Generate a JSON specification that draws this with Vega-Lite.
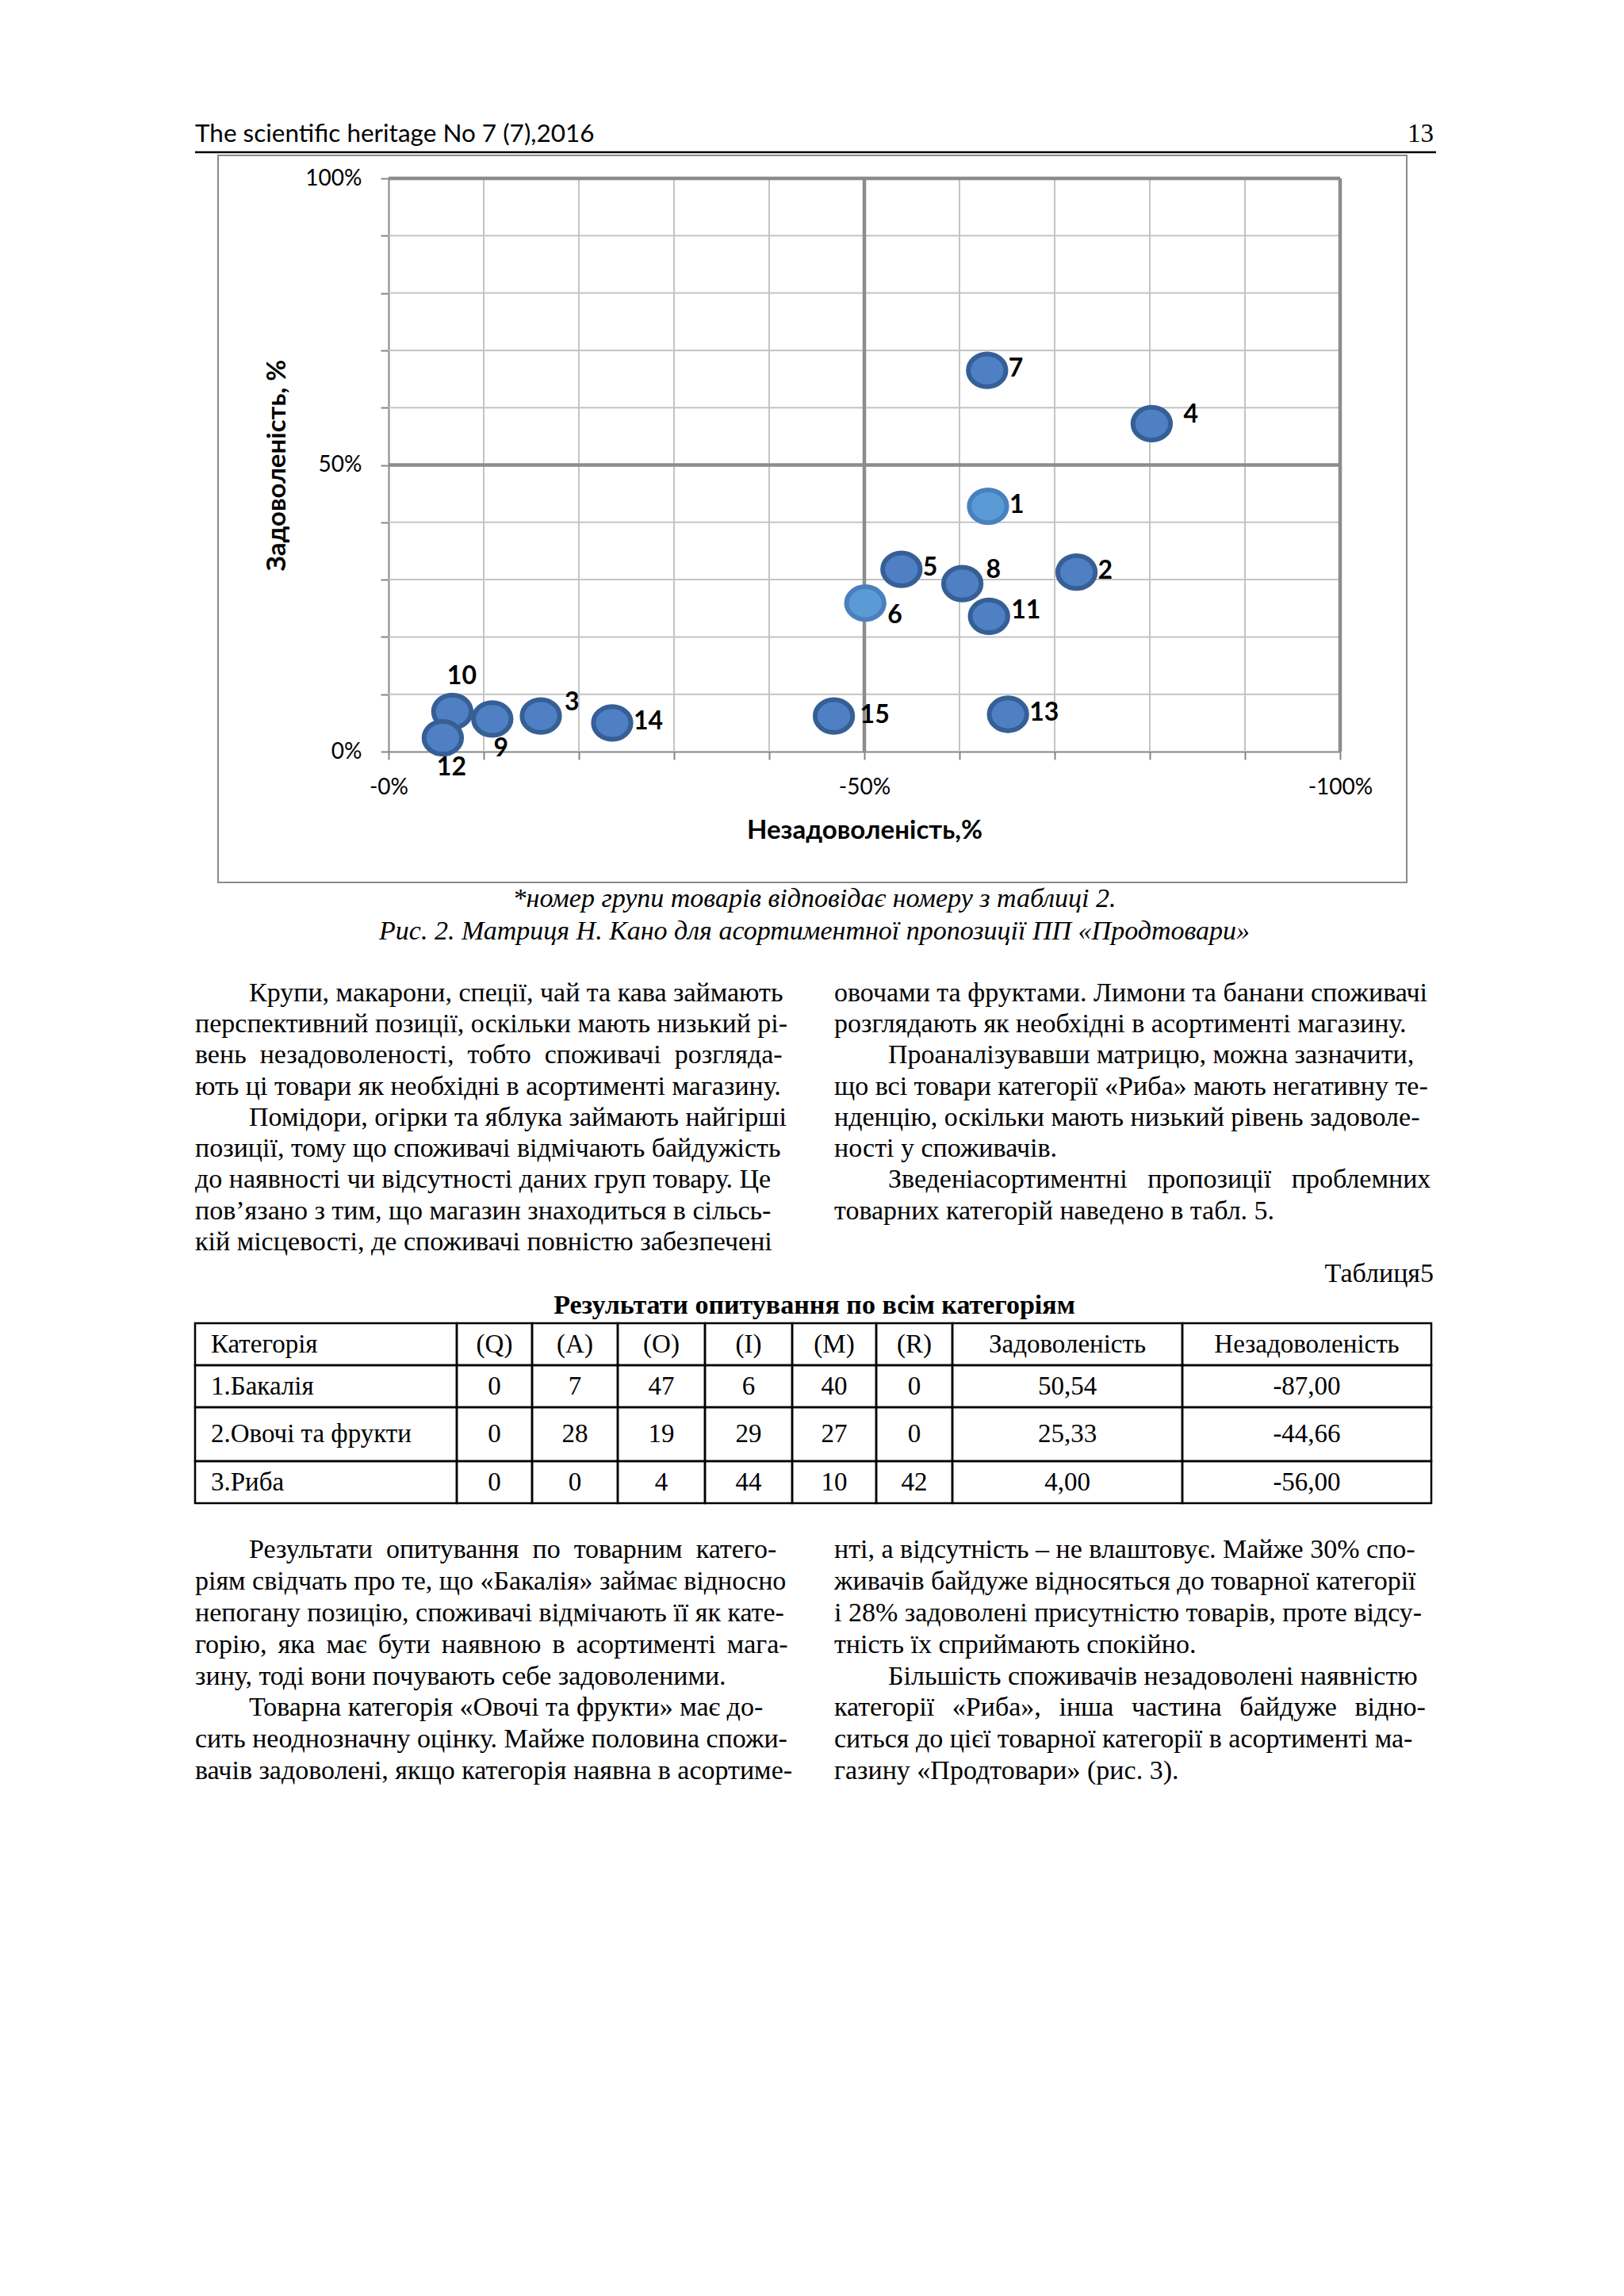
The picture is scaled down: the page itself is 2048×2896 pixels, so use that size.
{
  "$schema": "https://vega.github.io/schema/vega-lite/v6.json",
  "background": "white",
  "padding": {"left": 244, "top": 135, "right": 0, "bottom": 0},
  "config": {"view": {"stroke": null}, "concat": {"spacing": 0}, "text": {"color": "black"}},
  "datasets": {
    "header": [
      {"side": "left", "text": "The scientific heritage No 7 (7),2016"},
      {"side": "right", "text": "13"}
    ],
    "groups": [
      {"n": 1, "dis": -63.0, "sat": 42.8},
      {"n": 2, "dis": -72.3, "sat": 31.3},
      {"n": 3, "dis": -16.0, "sat": 6.2},
      {"n": 4, "dis": -80.2, "sat": 57.2},
      {"n": 5, "dis": -53.9, "sat": 31.8},
      {"n": 6, "dis": -50.1, "sat": 25.9},
      {"n": 7, "dis": -62.9, "sat": 66.5},
      {"n": 8, "dis": -60.3, "sat": 29.3},
      {"n": 9, "dis": -10.9, "sat": 5.7},
      {"n": 10, "dis": -6.7, "sat": 7.0},
      {"n": 11, "dis": -63.1, "sat": 23.6},
      {"n": 12, "dis": -5.7, "sat": 2.4},
      {"n": 13, "dis": -65.1, "sat": 6.5},
      {"n": 14, "dis": -23.5, "sat": 5.0},
      {"n": 15, "dis": -46.8, "sat": 6.2}
    ],
    "xgrid": [{"v": -10}, {"v": -20}, {"v": -30}, {"v": -40}, {"v": -60}, {"v": -70}, {"v": -80}, {"v": -90}],
    "ygrid": [{"v": 10}, {"v": 20}, {"v": 30}, {"v": 40}, {"v": 60}, {"v": 70}, {"v": 80}, {"v": 90}],
    "xmajor": [{"v": -50}, {"v": -100}],
    "ymajor": [{"v": 50}, {"v": 100}],
    "figcap": [
      {"line": 0, "text": "*номер групи товарів відповідає номеру з таблиці 2."},
      {"line": 1, "text": "Рис. 2. Матриця Н. Кано для асортиментної пропозиції ПП «Продтовари»"}
    ],
    "body1": [
      {"col": "L", "line": 0, "text": "\u200b\u2003\u2003Крупи, макарони, спеції, чай та кава займають"},
      {"col": "L", "line": 1, "text": "перспективний позиції, оскільки мають низький рі-"},
      {"col": "L", "line": 2, "text": "вень\u2002незадоволеності,\u2002тобто\u2002споживачі\u2002розгляда-"},
      {"col": "L", "line": 3, "text": "ють ці товари як необхідні в асортименті магазину."},
      {"col": "L", "line": 4, "text": "\u200b\u2003\u2003Помідори, огірки та яблука займають найгірші"},
      {"col": "L", "line": 5, "text": "позиції, тому що споживачі відмічають байдужість"},
      {"col": "L", "line": 6, "text": "до наявності чи відсутності даних груп товару. Це"},
      {"col": "L", "line": 7, "text": "пов’язано з тим, що магазин знаходиться в сільсь-"},
      {"col": "L", "line": 8, "text": "кій місцевості, де споживачі повністю забезпечені"},
      {"col": "R", "line": 0, "text": "овочами та фруктами. Лимони та банани споживачі"},
      {"col": "R", "line": 1, "text": "розглядають як необхідні в асортименті магазину."},
      {"col": "R", "line": 2, "text": "\u200b\u2003\u2003Проаналізувавши матрицю, можна зазначити,"},
      {"col": "R", "line": 3, "text": "що всі товари категорії «Риба» мають негативну те-"},
      {"col": "R", "line": 4, "text": "нденцію, оскільки мають низький рівень задоволе-"},
      {"col": "R", "line": 5, "text": "ності у споживачів."},
      {"col": "R", "line": 6, "text": "\u200b\u2003\u2003Зведеніасортиментні\u2002 пропозиції\u2002 проблемних"},
      {"col": "R", "line": 7, "text": "товарних категорій наведено в табл. 5."}
    ],
    "tcap": [
      {"line": 0, "text": "Таблиця5"},
      {"line": 1, "text": "Результати опитування по всім категоріям"}
    ],
    "tbl": [
      {"r": 0, "cat": "Категорія", "Q": "(Q)", "A": "(A)", "O": "(O)", "I": "(I)", "M": "(M)", "R": "(R)", "sat": "Задоволеність", "dis": "Незадоволеність"},
      {"r": 1, "cat": "1.Бакалія", "Q": "0", "A": "7", "O": "47", "I": "6", "M": "40", "R": "0", "sat": "50,54", "dis": "-87,00"},
      {"r": 2, "cat": "2.Овочі та фрукти", "Q": "0", "A": "28", "O": "19", "I": "29", "M": "27", "R": "0", "sat": "25,33", "dis": "-44,66"},
      {"r": 3, "cat": "3.Риба", "Q": "0", "A": "0", "O": "4", "I": "44", "M": "10", "R": "42", "sat": "4,00", "dis": "-56,00"}
    ],
    "body2": [
      {"col": "L", "line": 0, "text": "\u200b\u2003\u2003Результати\u2002опитування\u2002по\u2002товарним\u2002катего-"},
      {"col": "L", "line": 1, "text": "ріям свідчать про те, що «Бакалія» займає відносно"},
      {"col": "L", "line": 2, "text": "непогану позицію, споживачі відмічають її як кате-"},
      {"col": "L", "line": 3, "text": "горію, \u2006яка \u2006має \u2006бути \u2006наявною \u2006в \u2006асортименті \u2006мага-"},
      {"col": "L", "line": 4, "text": "зину, тоді вони почувають себе задоволеними."},
      {"col": "L", "line": 5, "text": "\u200b\u2003\u2003Товарна категорія «Овочі та фрукти» має до-"},
      {"col": "L", "line": 6, "text": "сить неоднозначну оцінку. Майже половина спожи-"},
      {"col": "L", "line": 7, "text": "вачів задоволені, якщо категорія наявна в асортиме-"},
      {"col": "R", "line": 0, "text": "нті, а відсутність – не влаштовує. Майже 30% спо-"},
      {"col": "R", "line": 1, "text": "живачів байдуже відносяться до товарної категорії"},
      {"col": "R", "line": 2, "text": "і 28% задоволені присутністю товарів, проте відсу-"},
      {"col": "R", "line": 3, "text": "тність їх сприймають спокійно."},
      {"col": "R", "line": 4, "text": "\u200b\u2003\u2003Більшість споживачів незадоволені наявністю"},
      {"col": "R", "line": 5, "text": "категорії\u2002\u2006«Риба»,\u2002\u2006інша\u2002\u2006частина\u2002\u2006байдуже\u2002\u2006відно-"},
      {"col": "R", "line": 6, "text": "ситься до цієї товарної категорії в асортименті ма-"},
      {"col": "R", "line": 7, "text": "газину «Продтовари» (рис. 3)."}
    ]
  },
  "spacing": 0,
  "vconcat": [
    {
      "width": 1565, "height": 60,
      "data": {"name": "header"},
      "layer": [
        {"transform": [{"filter": "datum.side == 'left'"}],
         "mark": {"type": "text", "font": "Lato", "fontSize": 31.5, "align": "left", "baseline": "middle", "dy": 5, "color": "black"},
         "encoding": {"x": {"datum": 0, "type": "quantitative", "scale": {"domain": [0, 1]}, "axis": null}, "text": {"field": "text"}}},
        {"transform": [{"filter": "datum.side == 'right'"}],
         "mark": {"type": "text", "font": "Liberation Serif", "fontSize": 33, "align": "right", "baseline": "middle", "dx": -3, "dy": 4, "color": "black"},
         "encoding": {"x": {"datum": 1, "type": "quantitative"}, "text": {"field": "text"}}},
        {"transform": [{"filter": "datum.side == 'left'"}],
         "mark": {"type": "rule", "color": "black", "strokeWidth": 2.5, "yOffset": -3},
         "encoding": {"y": {"datum": 0, "type": "quantitative", "scale": {"domain": [0, 1]}, "axis": null}}}
      ]
    },
    {
      "spacing": 0, "bounds": "flush",
      "hconcat": [
        {"width": 29, "height": 917, "data": {"values": [{"t": ""}]}, "mark": "text", "encoding": {"text": {"field": "t"}}},
        {
          "width": 1499, "height": 917,
          "view": {"stroke": "#8A8A8A", "strokeWidth": 2, "fill": "white"},
          "layer": [
            {"data": {"name": "xgrid"},
             "mark": {"type": "rule", "color": "#C4C4C4", "strokeWidth": 2},
             "encoding": {
               "x": {"field": "v", "type": "quantitative",
                     "scale": {"domain": [0, -100], "range": [215, 1415], "nice": false, "zero": false},
                     "axis": {"orient": "bottom", "offset": -165, "values": [0, -10, -20, -30, -40, -50, -60, -70, -80, -90, -100],
                              "labelExpr": "datum.value == 0 ? '-0%' : (datum.value % 50 == 0 ? datum.value + '%' : '')",
                              "grid": false, "domainColor": "#868686", "domainWidth": 2, "tickColor": "#868686", "tickWidth": 2, "tickSize": 10,
                              "labelFont": "Lato", "labelFontSize": 28, "labelColor": "black", "labelPadding": 21, "labelFlush": false, "labelOverlap": false,
                              "title": "Незадоволеність,%", "titleFont": "Lato", "titleFontSize": 33, "titleFontWeight": "bold", "titleColor": "black", "titlePadding": 24}},
               "y": {"datum": 0, "type": "quantitative",
                     "scale": {"domain": [0, 100], "range": [752, 29], "nice": false, "zero": false},
                     "axis": {"orient": "left", "offset": -215, "values": [0, 10, 20, 30, 40, 50, 60, 70, 80, 90, 100],
                              "labelExpr": "datum.value % 50 == 0 ? datum.value + '%' : ''",
                              "grid": false, "domainColor": "#868686", "domainWidth": 2, "tickColor": "#868686", "tickWidth": 2, "tickSize": 10,
                              "labelFont": "Lato", "labelFontSize": 28, "labelColor": "black", "labelPadding": 24, "labelFlush": false, "labelOverlap": false,
                              "title": "Задоволеність, %", "titleFont": "Lato", "titleFontSize": 33, "titleFontWeight": "bold", "titleColor": "black", "titlePadding": 18}},
               "y2": {"datum": 100}
             }},
            {"data": {"name": "ygrid"},
             "mark": {"type": "rule", "color": "#C4C4C4", "strokeWidth": 2},
             "encoding": {"y": {"field": "v", "type": "quantitative"}, "x": {"datum": 0, "type": "quantitative"}, "x2": {"datum": -100}}},
            {"data": {"name": "xmajor"},
             "mark": {"type": "rule", "color": "#8C8C8C", "strokeWidth": 4.5},
             "encoding": {"x": {"field": "v", "type": "quantitative"}, "y": {"datum": 0, "type": "quantitative"}, "y2": {"datum": 100}}},
            {"data": {"name": "ymajor"},
             "mark": {"type": "rule", "color": "#8C8C8C", "strokeWidth": 4.5},
             "encoding": {"y": {"field": "v", "type": "quantitative"}, "x": {"datum": 0, "type": "quantitative"}, "x2": {"datum": -100}}},
            {"data": {"name": "groups"},
             "mark": {"type": "point", "filled": true, "shape": "M-1,0A1,0.873,0,1,0,1,0A1,0.873,0,1,0,-1,0Z", "size": 2237, "strokeWidth": 6, "opacity": 1},
             "encoding": {
               "x": {"field": "dis", "type": "quantitative"},
               "y": {"field": "sat", "type": "quantitative"},
               "fill": {"condition": {"test": "datum.n == 1 || datum.n == 6", "value": "#5B9BD5"}, "value": "#4F80C3"},
               "stroke": {"condition": {"test": "datum.n == 1 || datum.n == 6", "value": "#4A80BE"}, "value": "#365F96"}
             }},
            {"data": {"name": "groups"}, "transform": [{"filter": "indexof([7, 1, 5, 2, 13, 14], datum.n) >= 0"}],
             "mark": {"type": "text", "font": "Lato", "fontWeight": "bold", "fontSize": 32, "color": "black", "align": "left", "baseline": "middle", "dx": 27, "dy": -2},
             "encoding": {"x": {"field": "dis", "type": "quantitative"}, "y": {"field": "sat", "type": "quantitative"}, "text": {"field": "n", "type": "nominal"}}},
            {"data": {"name": "groups"}, "transform": [{"filter": "datum.n == 4"}],
             "mark": {"type": "text", "font": "Lato", "fontWeight": "bold", "fontSize": 32, "color": "black", "align": "left", "baseline": "middle", "dx": 40, "dy": -11},
             "encoding": {"x": {"field": "dis", "type": "quantitative"}, "y": {"field": "sat", "type": "quantitative"}, "text": {"field": "n", "type": "nominal"}}},
            {"data": {"name": "groups"}, "transform": [{"filter": "datum.n == 8 || datum.n == 3"}],
             "mark": {"type": "text", "font": "Lato", "fontWeight": "bold", "fontSize": 32, "color": "black", "align": "left", "baseline": "middle", "dx": 30, "dy": -17},
             "encoding": {"x": {"field": "dis", "type": "quantitative"}, "y": {"field": "sat", "type": "quantitative"}, "text": {"field": "n", "type": "nominal"}}},
            {"data": {"name": "groups"}, "transform": [{"filter": "datum.n == 6"}],
             "mark": {"type": "text", "font": "Lato", "fontWeight": "bold", "fontSize": 32, "color": "black", "align": "left", "baseline": "middle", "dx": 28, "dy": 15},
             "encoding": {"x": {"field": "dis", "type": "quantitative"}, "y": {"field": "sat", "type": "quantitative"}, "text": {"field": "n", "type": "nominal"}}},
            {"data": {"name": "groups"}, "transform": [{"filter": "datum.n == 11"}],
             "mark": {"type": "text", "font": "Lato", "fontWeight": "bold", "fontSize": 32, "color": "black", "align": "left", "baseline": "middle", "dx": 28, "dy": -7},
             "encoding": {"x": {"field": "dis", "type": "quantitative"}, "y": {"field": "sat", "type": "quantitative"}, "text": {"field": "n", "type": "nominal"}}},
            {"data": {"name": "groups"}, "transform": [{"filter": "datum.n == 15"}],
             "mark": {"type": "text", "font": "Lato", "fontWeight": "bold", "fontSize": 32, "color": "black", "align": "left", "baseline": "middle", "dx": 33, "dy": -1},
             "encoding": {"x": {"field": "dis", "type": "quantitative"}, "y": {"field": "sat", "type": "quantitative"}, "text": {"field": "n", "type": "nominal"}}},
            {"data": {"name": "groups"}, "transform": [{"filter": "datum.n == 10"}],
             "mark": {"type": "text", "font": "Lato", "fontWeight": "bold", "fontSize": 32, "color": "black", "align": "center", "baseline": "middle", "dx": 12, "dy": -44},
             "encoding": {"x": {"field": "dis", "type": "quantitative"}, "y": {"field": "sat", "type": "quantitative"}, "text": {"field": "n", "type": "nominal"}}},
            {"data": {"name": "groups"}, "transform": [{"filter": "datum.n == 9 || datum.n == 12"}],
             "mark": {"type": "text", "font": "Lato", "fontWeight": "bold", "fontSize": 32, "color": "black", "align": "center", "baseline": "middle", "dx": 11, "dy": 37},
             "encoding": {"x": {"field": "dis", "type": "quantitative"}, "y": {"field": "sat", "type": "quantitative"}, "text": {"field": "n", "type": "nominal"}}}
          ]
        }
      ]
    },
    {
      "width": 1562, "height": 81,
      "data": {"name": "figcap"},
      "mark": {"type": "text", "font": "Liberation Serif", "fontSize": 34, "fontStyle": "italic", "baseline": "middle", "color": "black"},
      "encoding": {"y": {"field": "line", "type": "ordinal", "axis": null, "scale": {"type": "point", "padding": 0.5}}, "text": {"field": "text"}}
    },
    {"width": 10, "height": 38, "data": {"values": [{"t": ""}]}, "mark": "text", "encoding": {"text": {"field": "t"}}},
    {
      "spacing": 50, "bounds": "flush",
      "hconcat": [
        {"width": 756, "height": 353.7, "data": {"name": "body1"}, "transform": [{"filter": "datum.col == 'L'"}],
         "mark": {"type": "text", "font": "Liberation Serif", "fontSize": 34, "align": "left", "baseline": "middle", "color": "black"},
         "encoding": {"x": {"datum": 0, "type": "quantitative", "scale": {"domain": [0, 1]}, "axis": null},
                      "y": {"field": "line", "type": "ordinal", "axis": null, "scale": {"type": "point", "padding": 0.5}},
                      "text": {"field": "text"}}},
        {"width": 756, "height": 353.7, "data": {"name": "body1"}, "transform": [{"filter": "datum.col == 'R'"}],
         "mark": {"type": "text", "font": "Liberation Serif", "fontSize": 34, "align": "left", "baseline": "middle", "color": "black"},
         "encoding": {"x": {"datum": 0, "type": "quantitative", "scale": {"domain": [0, 1]}, "axis": null},
                      "y": {"field": "line", "type": "ordinal", "axis": null, "scale": {"type": "point", "padding": 0.5, "domain": [0, 1, 2, 3, 4, 5, 6, 7, 8]}},
                      "text": {"field": "text"}}}
      ]
    },
    {
      "width": 1562, "height": 80,
      "data": {"name": "tcap"},
      "layer": [
        {"transform": [{"filter": "datum.line == 0"}],
         "mark": {"type": "text", "font": "Liberation Serif", "fontSize": 34, "align": "right", "baseline": "middle", "color": "black"},
         "encoding": {"x": {"datum": 1, "type": "quantitative", "scale": {"domain": [0, 1]}, "axis": null},
                      "y": {"field": "line", "type": "ordinal", "axis": null, "scale": {"type": "point", "padding": 0.5, "domain": [0, 1]}},
                      "text": {"field": "text"}}},
        {"transform": [{"filter": "datum.line == 1"}],
         "mark": {"type": "text", "font": "Liberation Serif", "fontSize": 34, "fontWeight": "bold", "align": "center", "baseline": "middle", "color": "black"},
         "encoding": {"y": {"field": "line", "type": "ordinal"}, "text": {"field": "text"}}}
      ]
    },
    {
      "columns": 9, "spacing": 0, "bounds": "flush", "align": "each",
      "concat": [
        {"width": 330, "height": 53, "view": {"stroke": "black", "strokeWidth": 2.5}, "data": {"name": "tbl"}, "transform": [{"filter": "datum.r == 0"}], "mark": {"type": "text", "font": "Liberation Serif", "fontSize": 33, "align": "left", "dx": -145, "color": "black"}, "encoding": {"text": {"field": "cat"}}},
        {"width": 95, "height": 53, "view": {"stroke": "black", "strokeWidth": 2.5}, "data": {"name": "tbl"}, "transform": [{"filter": "datum.r == 0"}], "mark": {"type": "text", "font": "Liberation Serif", "fontSize": 33, "color": "black"}, "encoding": {"text": {"field": "Q"}}},
        {"width": 108, "height": 53, "view": {"stroke": "black", "strokeWidth": 2.5}, "data": {"name": "tbl"}, "transform": [{"filter": "datum.r == 0"}], "mark": {"type": "text", "font": "Liberation Serif", "fontSize": 33, "color": "black"}, "encoding": {"text": {"field": "A"}}},
        {"width": 110, "height": 53, "view": {"stroke": "black", "strokeWidth": 2.5}, "data": {"name": "tbl"}, "transform": [{"filter": "datum.r == 0"}], "mark": {"type": "text", "font": "Liberation Serif", "fontSize": 33, "color": "black"}, "encoding": {"text": {"field": "O"}}},
        {"width": 110, "height": 53, "view": {"stroke": "black", "strokeWidth": 2.5}, "data": {"name": "tbl"}, "transform": [{"filter": "datum.r == 0"}], "mark": {"type": "text", "font": "Liberation Serif", "fontSize": 33, "color": "black"}, "encoding": {"text": {"field": "I"}}},
        {"width": 106, "height": 53, "view": {"stroke": "black", "strokeWidth": 2.5}, "data": {"name": "tbl"}, "transform": [{"filter": "datum.r == 0"}], "mark": {"type": "text", "font": "Liberation Serif", "fontSize": 33, "color": "black"}, "encoding": {"text": {"field": "M"}}},
        {"width": 96, "height": 53, "view": {"stroke": "black", "strokeWidth": 2.5}, "data": {"name": "tbl"}, "transform": [{"filter": "datum.r == 0"}], "mark": {"type": "text", "font": "Liberation Serif", "fontSize": 33, "color": "black"}, "encoding": {"text": {"field": "R"}}},
        {"width": 290, "height": 53, "view": {"stroke": "black", "strokeWidth": 2.5}, "data": {"name": "tbl"}, "transform": [{"filter": "datum.r == 0"}], "mark": {"type": "text", "font": "Liberation Serif", "fontSize": 33, "color": "black"}, "encoding": {"text": {"field": "sat"}}},
        {"width": 314, "height": 53, "view": {"stroke": "black", "strokeWidth": 2.5}, "data": {"name": "tbl"}, "transform": [{"filter": "datum.r == 0"}], "mark": {"type": "text", "font": "Liberation Serif", "fontSize": 33, "color": "black"}, "encoding": {"text": {"field": "dis"}}},
        {"width": 330, "height": 53, "view": {"stroke": "black", "strokeWidth": 2.5}, "data": {"name": "tbl"}, "transform": [{"filter": "datum.r == 1"}], "mark": {"type": "text", "font": "Liberation Serif", "fontSize": 33, "align": "left", "dx": -145, "color": "black"}, "encoding": {"text": {"field": "cat"}}},
        {"width": 95, "height": 53, "view": {"stroke": "black", "strokeWidth": 2.5}, "data": {"name": "tbl"}, "transform": [{"filter": "datum.r == 1"}], "mark": {"type": "text", "font": "Liberation Serif", "fontSize": 33, "color": "black"}, "encoding": {"text": {"field": "Q"}}},
        {"width": 108, "height": 53, "view": {"stroke": "black", "strokeWidth": 2.5}, "data": {"name": "tbl"}, "transform": [{"filter": "datum.r == 1"}], "mark": {"type": "text", "font": "Liberation Serif", "fontSize": 33, "color": "black"}, "encoding": {"text": {"field": "A"}}},
        {"width": 110, "height": 53, "view": {"stroke": "black", "strokeWidth": 2.5}, "data": {"name": "tbl"}, "transform": [{"filter": "datum.r == 1"}], "mark": {"type": "text", "font": "Liberation Serif", "fontSize": 33, "color": "black"}, "encoding": {"text": {"field": "O"}}},
        {"width": 110, "height": 53, "view": {"stroke": "black", "strokeWidth": 2.5}, "data": {"name": "tbl"}, "transform": [{"filter": "datum.r == 1"}], "mark": {"type": "text", "font": "Liberation Serif", "fontSize": 33, "color": "black"}, "encoding": {"text": {"field": "I"}}},
        {"width": 106, "height": 53, "view": {"stroke": "black", "strokeWidth": 2.5}, "data": {"name": "tbl"}, "transform": [{"filter": "datum.r == 1"}], "mark": {"type": "text", "font": "Liberation Serif", "fontSize": 33, "color": "black"}, "encoding": {"text": {"field": "M"}}},
        {"width": 96, "height": 53, "view": {"stroke": "black", "strokeWidth": 2.5}, "data": {"name": "tbl"}, "transform": [{"filter": "datum.r == 1"}], "mark": {"type": "text", "font": "Liberation Serif", "fontSize": 33, "color": "black"}, "encoding": {"text": {"field": "R"}}},
        {"width": 290, "height": 53, "view": {"stroke": "black", "strokeWidth": 2.5}, "data": {"name": "tbl"}, "transform": [{"filter": "datum.r == 1"}], "mark": {"type": "text", "font": "Liberation Serif", "fontSize": 33, "color": "black"}, "encoding": {"text": {"field": "sat"}}},
        {"width": 314, "height": 53, "view": {"stroke": "black", "strokeWidth": 2.5}, "data": {"name": "tbl"}, "transform": [{"filter": "datum.r == 1"}], "mark": {"type": "text", "font": "Liberation Serif", "fontSize": 33, "color": "black"}, "encoding": {"text": {"field": "dis"}}},
        {"width": 330, "height": 68, "view": {"stroke": "black", "strokeWidth": 2.5}, "data": {"name": "tbl"}, "transform": [{"filter": "datum.r == 2"}], "mark": {"type": "text", "font": "Liberation Serif", "fontSize": 33, "align": "left", "dx": -145, "color": "black"}, "encoding": {"text": {"field": "cat"}}},
        {"width": 95, "height": 68, "view": {"stroke": "black", "strokeWidth": 2.5}, "data": {"name": "tbl"}, "transform": [{"filter": "datum.r == 2"}], "mark": {"type": "text", "font": "Liberation Serif", "fontSize": 33, "color": "black"}, "encoding": {"text": {"field": "Q"}}},
        {"width": 108, "height": 68, "view": {"stroke": "black", "strokeWidth": 2.5}, "data": {"name": "tbl"}, "transform": [{"filter": "datum.r == 2"}], "mark": {"type": "text", "font": "Liberation Serif", "fontSize": 33, "color": "black"}, "encoding": {"text": {"field": "A"}}},
        {"width": 110, "height": 68, "view": {"stroke": "black", "strokeWidth": 2.5}, "data": {"name": "tbl"}, "transform": [{"filter": "datum.r == 2"}], "mark": {"type": "text", "font": "Liberation Serif", "fontSize": 33, "color": "black"}, "encoding": {"text": {"field": "O"}}},
        {"width": 110, "height": 68, "view": {"stroke": "black", "strokeWidth": 2.5}, "data": {"name": "tbl"}, "transform": [{"filter": "datum.r == 2"}], "mark": {"type": "text", "font": "Liberation Serif", "fontSize": 33, "color": "black"}, "encoding": {"text": {"field": "I"}}},
        {"width": 106, "height": 68, "view": {"stroke": "black", "strokeWidth": 2.5}, "data": {"name": "tbl"}, "transform": [{"filter": "datum.r == 2"}], "mark": {"type": "text", "font": "Liberation Serif", "fontSize": 33, "color": "black"}, "encoding": {"text": {"field": "M"}}},
        {"width": 96, "height": 68, "view": {"stroke": "black", "strokeWidth": 2.5}, "data": {"name": "tbl"}, "transform": [{"filter": "datum.r == 2"}], "mark": {"type": "text", "font": "Liberation Serif", "fontSize": 33, "color": "black"}, "encoding": {"text": {"field": "R"}}},
        {"width": 290, "height": 68, "view": {"stroke": "black", "strokeWidth": 2.5}, "data": {"name": "tbl"}, "transform": [{"filter": "datum.r == 2"}], "mark": {"type": "text", "font": "Liberation Serif", "fontSize": 33, "color": "black"}, "encoding": {"text": {"field": "sat"}}},
        {"width": 314, "height": 68, "view": {"stroke": "black", "strokeWidth": 2.5}, "data": {"name": "tbl"}, "transform": [{"filter": "datum.r == 2"}], "mark": {"type": "text", "font": "Liberation Serif", "fontSize": 33, "color": "black"}, "encoding": {"text": {"field": "dis"}}},
        {"width": 330, "height": 53, "view": {"stroke": "black", "strokeWidth": 2.5}, "data": {"name": "tbl"}, "transform": [{"filter": "datum.r == 3"}], "mark": {"type": "text", "font": "Liberation Serif", "fontSize": 33, "align": "left", "dx": -145, "color": "black"}, "encoding": {"text": {"field": "cat"}}},
        {"width": 95, "height": 53, "view": {"stroke": "black", "strokeWidth": 2.5}, "data": {"name": "tbl"}, "transform": [{"filter": "datum.r == 3"}], "mark": {"type": "text", "font": "Liberation Serif", "fontSize": 33, "color": "black"}, "encoding": {"text": {"field": "Q"}}},
        {"width": 108, "height": 53, "view": {"stroke": "black", "strokeWidth": 2.5}, "data": {"name": "tbl"}, "transform": [{"filter": "datum.r == 3"}], "mark": {"type": "text", "font": "Liberation Serif", "fontSize": 33, "color": "black"}, "encoding": {"text": {"field": "A"}}},
        {"width": 110, "height": 53, "view": {"stroke": "black", "strokeWidth": 2.5}, "data": {"name": "tbl"}, "transform": [{"filter": "datum.r == 3"}], "mark": {"type": "text", "font": "Liberation Serif", "fontSize": 33, "color": "black"}, "encoding": {"text": {"field": "O"}}},
        {"width": 110, "height": 53, "view": {"stroke": "black", "strokeWidth": 2.5}, "data": {"name": "tbl"}, "transform": [{"filter": "datum.r == 3"}], "mark": {"type": "text", "font": "Liberation Serif", "fontSize": 33, "color": "black"}, "encoding": {"text": {"field": "I"}}},
        {"width": 106, "height": 53, "view": {"stroke": "black", "strokeWidth": 2.5}, "data": {"name": "tbl"}, "transform": [{"filter": "datum.r == 3"}], "mark": {"type": "text", "font": "Liberation Serif", "fontSize": 33, "color": "black"}, "encoding": {"text": {"field": "M"}}},
        {"width": 96, "height": 53, "view": {"stroke": "black", "strokeWidth": 2.5}, "data": {"name": "tbl"}, "transform": [{"filter": "datum.r == 3"}], "mark": {"type": "text", "font": "Liberation Serif", "fontSize": 33, "color": "black"}, "encoding": {"text": {"field": "R"}}},
        {"width": 290, "height": 53, "view": {"stroke": "black", "strokeWidth": 2.5}, "data": {"name": "tbl"}, "transform": [{"filter": "datum.r == 3"}], "mark": {"type": "text", "font": "Liberation Serif", "fontSize": 33, "color": "black"}, "encoding": {"text": {"field": "sat"}}},
        {"width": 314, "height": 53, "view": {"stroke": "black", "strokeWidth": 2.5}, "data": {"name": "tbl"}, "transform": [{"filter": "datum.r == 3"}], "mark": {"type": "text", "font": "Liberation Serif", "fontSize": 33, "color": "black"}, "encoding": {"text": {"field": "dis"}}}
      ]
    },
    {"width": 10, "height": 37, "data": {"values": [{"t": ""}]}, "mark": "text", "encoding": {"text": {"field": "t"}}},
    {
      "spacing": 50, "bounds": "flush",
      "hconcat": [
        {"width": 756, "height": 319.2, "data": {"name": "body2"}, "transform": [{"filter": "datum.col == 'L'"}],
         "mark": {"type": "text", "font": "Liberation Serif", "fontSize": 34, "align": "left", "baseline": "middle", "color": "black"},
         "encoding": {"x": {"datum": 0, "type": "quantitative", "scale": {"domain": [0, 1]}, "axis": null},
                      "y": {"field": "line", "type": "ordinal", "axis": null, "scale": {"type": "point", "padding": 0.5}},
                      "text": {"field": "text"}}},
        {"width": 756, "height": 319.2, "data": {"name": "body2"}, "transform": [{"filter": "datum.col == 'R'"}],
         "mark": {"type": "text", "font": "Liberation Serif", "fontSize": 34, "align": "left", "baseline": "middle", "color": "black"},
         "encoding": {"x": {"datum": 0, "type": "quantitative", "scale": {"domain": [0, 1]}, "axis": null},
                      "y": {"field": "line", "type": "ordinal", "axis": null, "scale": {"type": "point", "padding": 0.5}},
                      "text": {"field": "text"}}}
      ]
    }
  ]
}
